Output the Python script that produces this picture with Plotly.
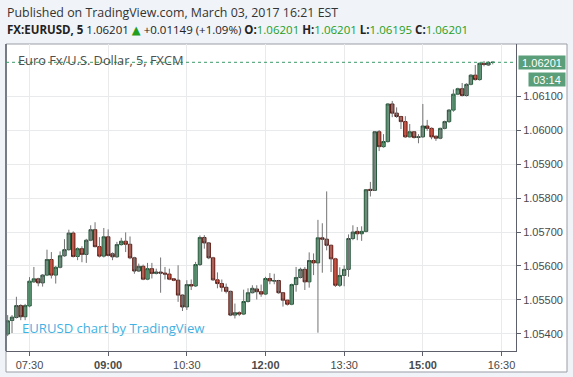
import pandas as pd
import plotly.graph_objects as go

# ---- data (5-minute EUR/USD bars, March 03 2017) ----
start_time = "2017-03-03 07:05"
opens = [1.05399, 1.05439, 1.05448, 1.05483, 1.05450, 1.05482, 1.05553, 1.05562, 1.05550, 1.05573,
         1.05619, 1.05573, 1.05596, 1.05630, 1.05648, 1.05697, 1.05628, 1.05651, 1.05634, 1.05676,
         1.05707, 1.05657, 1.05629, 1.05686, 1.05636, 1.05627, 1.05663, 1.05673, 1.05664, 1.05624,
         1.05585, 1.05599, 1.05561, 1.05592, 1.05578, 1.05582, 1.05579, 1.05576, 1.05562, 1.05558,
         1.05514, 1.05479, 1.05545, 1.05541, 1.05604, 1.05684, 1.05668, 1.05624, 1.05559, 1.05548,
         1.05537, 1.05525, 1.05455, 1.05462, 1.05458, 1.05495, 1.05521, 1.05532, 1.05524, 1.05517,
         1.05563, 1.05555, 1.05557, 1.05521, 1.05499, 1.05487, 1.05545, 1.05566, 1.05590, 1.05553,
         1.05616, 1.05609, 1.05683, 1.05679, 1.05661, 1.05621, 1.05543, 1.05572, 1.05590, 1.05681,
         1.05702, 1.05695, 1.05702, 1.05826, 1.05823, 1.05996, 1.05952, 1.05967, 1.06078, 1.06051,
         1.06041, 1.06026, 1.05981, 1.05996, 1.05979, 1.05981, 1.06013, 1.06006, 1.05983, 1.05977,
         1.06006, 1.06026, 1.06060, 1.06107, 1.06123, 1.06103, 1.06136, 1.06163, 1.06150, 1.06198,
         1.06193, 1.06201]
highs = [1.05455, 1.05455, 1.05509, 1.05487, 1.05488, 1.05567, 1.05597, 1.05565, 1.05576, 1.05648,
         1.05641, 1.05600, 1.05643, 1.05679, 1.05707, 1.05702, 1.05655, 1.05658, 1.05680, 1.05720,
         1.05729, 1.05685, 1.05712, 1.05708, 1.05640, 1.05671, 1.05683, 1.05699, 1.05687, 1.05627,
         1.05607, 1.05604, 1.05609, 1.05609, 1.05592, 1.05625, 1.05597, 1.05592, 1.05563, 1.05602,
         1.05516, 1.05558, 1.05560, 1.05612, 1.05690, 1.05691, 1.05670, 1.05627, 1.05581, 1.05560,
         1.05548, 1.05527, 1.05489, 1.05466, 1.05530, 1.05534, 1.05543, 1.05543, 1.05545, 1.05568,
         1.05579, 1.05577, 1.05559, 1.05523, 1.05500, 1.05548, 1.05597, 1.05595, 1.05597, 1.05640,
         1.05637, 1.05736, 1.05726, 1.05820, 1.05663, 1.05624, 1.05596, 1.05602, 1.05693, 1.05720,
         1.05715, 1.05717, 1.05827, 1.05848, 1.05998, 1.06001, 1.05989, 1.06080, 1.06087, 1.06068,
         1.06043, 1.06042, 1.06019, 1.05998, 1.05989, 1.06078, 1.06031, 1.06009, 1.05984, 1.06008,
         1.06029, 1.06063, 1.06121, 1.06126, 1.06140, 1.06139, 1.06166, 1.06193, 1.06200, 1.06205,
         1.06204, 1.06201]
lows = [1.05393, 1.05402, 1.05445, 1.05440, 1.05440, 1.05478, 1.05550, 1.05540, 1.05539, 1.05570,
        1.05563, 1.05548, 1.05593, 1.05627, 1.05645, 1.05625, 1.05617, 1.05611, 1.05609, 1.05673,
        1.05655, 1.05625, 1.05625, 1.05628, 1.05617, 1.05624, 1.05660, 1.05641, 1.05620, 1.05577,
        1.05582, 1.05558, 1.05558, 1.05563, 1.05575, 1.05521, 1.05560, 1.05558, 1.05555, 1.05494,
        1.05467, 1.05470, 1.05529, 1.05538, 1.05600, 1.05651, 1.05620, 1.05556, 1.05534, 1.05524,
        1.05519, 1.05452, 1.05445, 1.05452, 1.05455, 1.05492, 1.05519, 1.05501, 1.05509, 1.05514,
        1.05546, 1.05546, 1.05518, 1.05480, 1.05483, 1.05484, 1.05524, 1.05563, 1.05529, 1.05536,
        1.05573, 1.05403, 1.05580, 1.05646, 1.05582, 1.05538, 1.05538, 1.05540, 1.05568, 1.05676,
        1.05676, 1.05674, 1.05699, 1.05805, 1.05821, 1.05939, 1.05949, 1.05964, 1.06039, 1.06037,
        1.06004, 1.05978, 1.05979, 1.05976, 1.05962, 1.05978, 1.05999, 1.05974, 1.05969, 1.05974,
        1.06003, 1.06022, 1.06055, 1.06104, 1.06100, 1.06100, 1.06133, 1.06147, 1.06147, 1.06189,
        1.06190, 1.06195]
closes = [1.05438, 1.05449, 1.05483, 1.05450, 1.05483, 1.05555, 1.05562, 1.05550, 1.05573, 1.05619,
          1.05573, 1.05596, 1.05630, 1.05648, 1.05697, 1.05628, 1.05651, 1.05634, 1.05676, 1.05707,
          1.05657, 1.05629, 1.05686, 1.05631, 1.05627, 1.05663, 1.05673, 1.05664, 1.05624, 1.05585,
          1.05599, 1.05561, 1.05592, 1.05578, 1.05582, 1.05579, 1.05576, 1.05561, 1.05558, 1.05514,
          1.05479, 1.05545, 1.05541, 1.05604, 1.05684, 1.05668, 1.05624, 1.05559, 1.05548, 1.05537,
          1.05525, 1.05455, 1.05462, 1.05458, 1.05495, 1.05521, 1.05534, 1.05524, 1.05517, 1.05563,
          1.05556, 1.05557, 1.05521, 1.05499, 1.05487, 1.05545, 1.05566, 1.05590, 1.05553, 1.05616,
          1.05609, 1.05683, 1.05679, 1.05661, 1.05621, 1.05543, 1.05572, 1.05590, 1.05681, 1.05700,
          1.05695, 1.05702, 1.05825, 1.05823, 1.05996, 1.05952, 1.05967, 1.06078, 1.06051, 1.06041,
          1.06026, 1.05981, 1.05996, 1.05979, 1.05981, 1.06013, 1.06006, 1.05981, 1.05977, 1.06006,
          1.06026, 1.06060, 1.06107, 1.06123, 1.06103, 1.06136, 1.06163, 1.06150, 1.06198, 1.06195,
          1.06201, 1.06201]

price_ticks = [1.054, 1.055, 1.056, 1.057, 1.058, 1.059, 1.060, 1.061]
time_ticks = ["07:30", "09:00", "10:30", "12:00", "13:30", "15:00", "16:30"]
bold_ticks = ["09:00", "12:00", "15:00"]
header_1 = "Published on TradingView.com, March 03, 2017 16:21 EST"
symbol = "FX:EURUSD, 5"
change_txt = "+0.01149 (+1.09%)"
title_txt = "Euro Fx/U.S. Dollar, 5, FXCM"
watermark = "EURUSD chart by TradingView"
countdown = "03:14"

# ---- build ----
times = pd.date_range(start_time, periods=len(opens), freq="5min")
day = "2017-03-03 "
body_hi = [max(o, c) for o, c in zip(opens, closes)]
body_lo = [min(o, c) for o, c in zip(opens, closes)]

wx, wy = [], []
for t, lo, hi in zip(times, lows, highs):
    wx += [t, t, None]
    wy += [lo, hi, None]

UP_FILL, UP_LINE = "#6ba583", "#225437"
DN_FILL, DN_LINE = "#d75442", "#5b1a13"
GREEN_TXT = "#1f9e1f"

fig = go.Figure()
fig.add_trace(go.Scatter(x=wx, y=wy, mode="lines", line=dict(color="#737375", width=1),
                         hoverinfo="skip", showlegend=False))
fig.add_trace(go.Candlestick(
    x=times, open=opens, high=body_hi, low=body_lo, close=closes,
    increasing=dict(fillcolor=UP_FILL, line=dict(color=UP_LINE, width=1)),
    decreasing=dict(fillcolor=DN_FILL, line=dict(color=DN_LINE, width=1)),
    whiskerwidth=0, showlegend=False))

last = closes[-1]
L, R, T, B = 6, 57, 44, 26
W, H = 573, 377
pw, ph = W - L - R, H - T - B


def px_x(px):
    return (px - L) / pw


def px_y(py):
    return (H - B - py) / ph


fig.update_layout(
    width=W, height=H,
    margin=dict(l=L, r=R, t=T, b=B, pad=0),
    paper_bgcolor="#f0f3f7", plot_bgcolor="#ffffff",
    boxgap=0.22, boxgroupgap=0,
    showlegend=False, hovermode=False,
    xaxis=dict(
        type="date",
        range=[day + "07:03:06", day + "16:46:36"],
        tickvals=[day + t for t in time_ticks],
        ticktext=[("<b>%s</b>" % t) if t in bold_ticks else t for t in time_ticks],
        showgrid=True, gridcolor="#e9eaec", gridwidth=1,
        showline=True, linecolor="#5d606b", linewidth=1,
        ticks="outside", ticklen=4, tickcolor="#5d606b",
        tickfont=dict(family="Liberation Sans, Arial", size=11, color="#4a4a4a"),
        rangeslider=dict(visible=False), zeroline=False, fixedrange=True,
    ),
    yaxis=dict(
        side="right", range=[1.05349, 1.06255],
        tickvals=price_ticks, tickformat=".5f",
        showgrid=True, gridcolor="#e9eaec", gridwidth=1,
        showline=True, linecolor="#5d606b", linewidth=1,
        ticks="outside", ticklen=4, tickcolor="#5d606b",
        tickfont=dict(family="Liberation Sans, Arial", size=11, color="#4a4a4a"),
        zeroline=False, fixedrange=True,
    ),
)

# widget box + pane border
fig.add_shape(type="rect", xref="paper", yref="paper",
              x0=px_x(6), x1=px_x(567), y0=px_y(372), y1=px_y(44),
              fillcolor="#ffffff", line=dict(color="#9a9da6", width=1), layer="below")
fig.add_shape(type="line", xref="paper", yref="paper",
              x0=0, x1=0, y0=0, y1=1, line=dict(color="#5d606b", width=1.5))
# last price dotted line
fig.add_shape(type="line", xref="paper", yref="y", x0=0, x1=1, y0=last, y1=last,
              line=dict(color="#3d9a6a", width=1, dash="dot"))

# header
fig.add_annotation(xref="paper", yref="paper", x=px_x(5), y=px_y(12.5), xanchor="left",
                   yanchor="middle", showarrow=False, text=header_1,
                   font=dict(family="Open Sans", size=12.4, color="#333333"))
ohlc_txt = " ".join("<b>%s:</b><span style='color:%s'>%.5f</span>" % (k, GREEN_TXT, v)
                    for k, v in zip("OHLC", [opens[-1], highs[-1], lows[-1], closes[-1]]))
line2 = ("<b>%s</b> %.5f <span style='color:%s'>\u25B2</span> %s %s"
         % (symbol, last, GREEN_TXT, change_txt, ohlc_txt))
fig.add_annotation(xref="paper", yref="paper", x=px_x(5), y=px_y(30), xanchor="left",
                   yanchor="middle", showarrow=False, text=line2,
                   font=dict(family="Open Sans, DejaVu Sans", size=11.5, color="#222222"))

# chart title
fig.add_annotation(xref="paper", yref="paper", x=px_x(16), y=px_y(60), xanchor="left",
                   yanchor="middle", showarrow=False, text=title_txt,
                   font=dict(family="Open Sans", size=12.8, color="#4e4e4e"))
# watermark
fig.add_annotation(xref="paper", yref="paper", x=px_x(20), y=px_y(328), xanchor="left",
                   yanchor="middle", showarrow=False, text=watermark,
                   font=dict(family="Open Sans", size=13.1, color="#3fb1e3"))

# last price label and countdown
fig.add_annotation(xref="paper", yref="y", x=1, y=last, xanchor="left", yanchor="middle",
                   xshift=2, showarrow=False, text="%.5f" % last, width=46, height=13,
                   bgcolor="#5a9e7a", borderpad=0,
                   font=dict(family="Liberation Sans, Arial", size=11, color="#ffffff"))
fig.add_annotation(xref="paper", yref="y", x=1, y=last, xanchor="left", yanchor="middle",
                   xshift=12, yshift=-17, showarrow=False, text=countdown, width=36, height=13,
                   bgcolor="#5a9e7a", borderpad=0,
                   font=dict(family="Liberation Sans, Arial", size=11, color="#ffffff"))

fig.write_html("out.html", config={"displayModeBar": False})
